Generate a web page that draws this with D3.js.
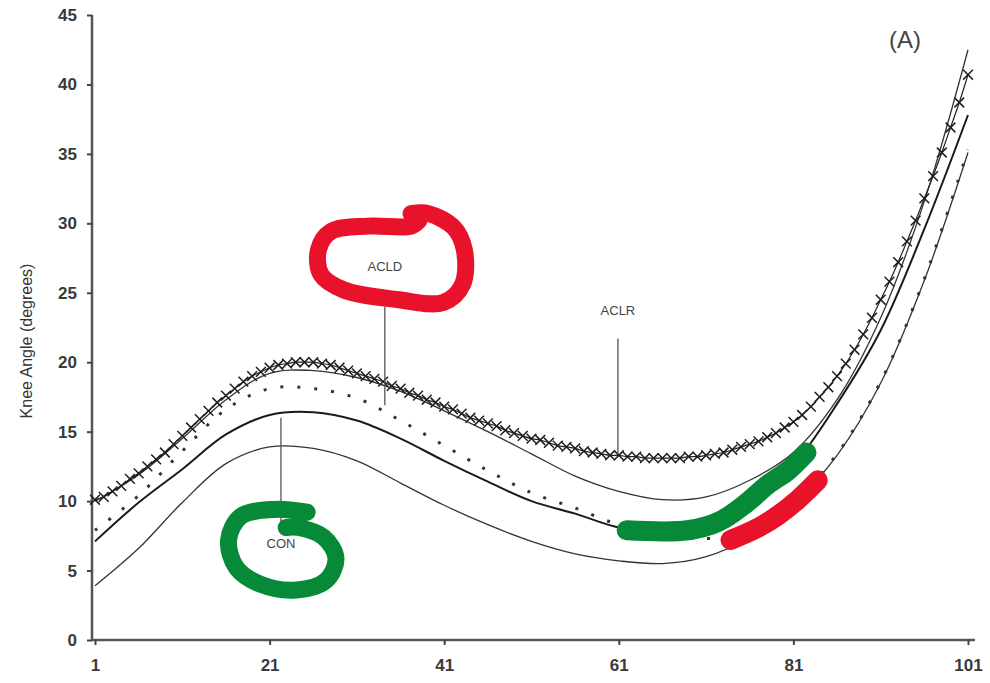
<!DOCTYPE html>
<html>
<head>
<meta charset="utf-8">
<script src="https://cdn.jsdelivr.net/npm/d3@7"></script>
<style>
  html, body { margin: 0; padding: 0; background: #fff; }
  svg { display: block; }
</style>
</head>
<body>
<svg id="chart" width="990" height="683"></svg>
<script>
// ---------- DATA ----------
const xTicks = [1, 21, 41, 61, 81, 101];
const yTicks = [0, 5, 10, 15, 20, 25, 30, 35, 40, 45];

// % of stance sampled every 5 units
const xs5 = [1, 6, 11, 16, 21, 26, 31, 36, 41, 46, 51, 56, 61, 66, 71, 76, 81, 86, 91, 96, 101];
const conMean  = [7.1, 9.9, 12.3, 14.8, 16.2, 16.4, 15.8, 14.5, 12.9, 11.4, 10.0, 9.1, 8.1, 7.8, 8.3, 9.9, 12.6, 17.0, 22.3, 29.6, 37.8];
const conUpper = [10.0, 11.9, 14.5, 17.3, 19.2, 19.4, 18.9, 17.9, 16.5, 15.0, 13.4, 11.8, 10.7, 10.1, 10.3, 11.5, 13.5, 17.3, 23.2, 31.6, 42.5];
const conLower = [3.9, 6.6, 9.9, 12.7, 13.9, 13.8, 12.9, 11.3, 9.7, 8.3, 7.1, 6.2, 5.7, 5.5, 6.0, 7.4, 9.8, 13.3, 18.5, 25.9, 35.1];
const acld     = [7.9, 10.4, 13.6, 16.6, 18.1, 18.1, 17.4, 15.8, 14.0, 12.2, 10.6, 9.5, 8.3, 7.6, 7.3, 7.9, 9.9, 13.4, 18.6, 26.0, 35.3];

// ACLR sampled at every unit 1..101
const aclr = [
  10.1, 10.3, 10.7, 11.1, 11.6, 12.0, 12.5, 13.0, 13.5, 14.1,
  14.7, 15.3, 15.9, 16.5, 17.1, 17.6, 18.1, 18.6, 19.0, 19.3,
  19.6, 19.8, 19.9, 20.0, 20.0, 20.0, 19.9, 19.8, 19.6, 19.4,
  19.2, 19.0, 18.8, 18.6, 18.3, 18.1, 17.8, 17.6, 17.3, 17.1,
  16.8, 16.6, 16.3, 16.0, 15.8, 15.6, 15.4, 15.1, 14.9, 14.7,
  14.5, 14.4, 14.2, 14.0, 13.9, 13.8, 13.6, 13.5, 13.4, 13.3,
  13.3, 13.2, 13.2, 13.1, 13.1, 13.1, 13.1, 13.1, 13.2, 13.2,
  13.3, 13.4, 13.5, 13.7, 13.9, 14.1, 14.3, 14.6, 14.9, 15.3,
  15.7, 16.2, 16.8, 17.5, 18.2, 19.0, 19.9, 20.9, 22.0, 23.2,
  24.5, 25.8, 27.2, 28.7, 30.2, 31.8, 33.4, 35.1, 36.9, 38.7,
  40.7
];

// Group labels with pointer lines
const labelNames = ["ACLD", "ACLR", "CON"];
const labelX     = [34.2, 60.9, 22.3];
const labelY     = [26.6, 23.4, 6.6];
const ptrTop     = [24.0, 21.7, 16.0];
const ptrBottom  = [16.9, 13.4, 7.9];

// Hand-drawn highlight strokes (data units)
const redLoop = [[37.2,30.7],[39.2,30.7],[42.1,29.7],[43.3,28.1],[43.1,25.6],[40.9,24.3],[35.8,24.5],[29.5,25.2],[26.9,26.3],[26.6,28.1],[28.0,29.4],[32.3,29.8],[37.2,29.8],[38.1,30.2]];
const greenLoop = [[25.3,9.2],[21.5,9.4],[17.7,8.9],[16.3,7.2],[17.2,5.2],[20.0,4.0],[24.1,3.6],[27.5,4.3],[28.6,5.9],[27.2,7.4],[24.3,8.1],[22.9,8.1]];
const greenStroke = [[61.9,7.9],[68.9,7.9],[72.4,8.5],[75.3,9.7],[78.1,11.2],[80.4,12.2],[82.5,13.5]];
const redStroke = [[73.8,7.2],[77.0,8.1],[79.3,9.0],[81.5,10.1],[83.8,11.5]];

// ---------- CHART ----------
const svg = d3.select("#chart");
const x = d3.scaleLinear().domain([1, 101]).range([95, 968]);
const y = d3.scaleLinear().domain([0, 45]).range([640, 15]);

const font = "'Liberation Sans', Arial, Helvetica, sans-serif";

// axes
const yAxis = d3.axisLeft(y).tickValues(yTicks).tickSize(5).tickPadding(10);
const gy = svg.append("g").attr("transform", "translate(92,0)").call(yAxis);
gy.select(".domain").attr("stroke", "#555").attr("stroke-width", 2.5).attr("d", "M0,15V640");
gy.selectAll(".tick line").attr("stroke", "#444").attr("stroke-width", 2);
gy.selectAll(".tick text").attr("font-family", font).attr("font-size", 17).attr("font-weight", "bold").attr("fill", "#3a3a3a");

const xAxis = d3.axisBottom(x).tickValues(xTicks).tickSize(5).tickPadding(14);
const gx = svg.append("g").attr("transform", "translate(0,640)").call(xAxis);
gx.select(".domain").attr("stroke", "#555").attr("stroke-width", 2.5).attr("d", "M92,0H975");
gx.selectAll(".tick line").attr("stroke", "#444").attr("stroke-width", 2);
gx.selectAll(".tick text").attr("font-family", font).attr("font-size", 17).attr("font-weight", "bold").attr("fill", "#3a3a3a");

// axis title
svg.append("text")
  .attr("transform", "translate(32,341) rotate(-90)")
  .attr("text-anchor", "middle")
  .attr("font-family", font).attr("font-size", 16).attr("fill", "#333")
  .text("Knee Angle (degrees)");

svg.append("text")
  .attr("x", 905).attr("y", 48)
  .attr("text-anchor", "middle")
  .attr("font-family", font).attr("font-size", 24).attr("fill", "#444")
  .text("(A)");

// lines
const line5 = d3.line().x((d, i) => x(xs5[i])).y(d => y(d)).curve(d3.curveCatmullRom.alpha(0.5));
const plot = svg.append("g");

plot.append("path").datum(conUpper).attr("d", line5).attr("fill", "none").attr("stroke", "#333").attr("stroke-width", 1.3);
plot.append("path").datum(conLower).attr("d", line5).attr("fill", "none").attr("stroke", "#333").attr("stroke-width", 1.3);
plot.append("path").datum(conMean).attr("d", line5).attr("fill", "none").attr("stroke", "#1a1a1a").attr("stroke-width", 2);
plot.append("path").datum(acld).attr("d", line5).attr("fill", "none").attr("stroke", "#333")
  .attr("stroke-width", 3).attr("stroke-dasharray", "3,14");

// ACLR with x markers
const lineA = d3.line().x((d, i) => x(i + 1)).y(d => y(d)).curve(d3.curveMonotoneX);
plot.append("path").datum(aclr).attr("d", lineA).attr("fill", "none").attr("stroke", "#222").attr("stroke-width", 1.2);
const xSym = d3.symbol().type(d3.symbolTimes).size(64);
plot.selectAll("path.mk").data(aclr).join("path").attr("class", "mk")
  .attr("transform", (d, i) => `translate(${x(i + 1)},${y(d)})`)
  .attr("d", xSym)
  .attr("fill", "none").attr("stroke", "#1e1e1e").attr("stroke-width", 1.5);

// pointer labels
labelNames.forEach((name, i) => {
  svg.append("line")
    .attr("x1", x(labelX[i])).attr("x2", x(labelX[i]))
    .attr("y1", y(ptrTop[i])).attr("y2", y(ptrBottom[i]))
    .attr("stroke", "#555").attr("stroke-width", 1.3);
  svg.append("text")
    .attr("x", x(labelX[i])).attr("y", y(labelY[i]))
    .attr("text-anchor", "middle")
    .attr("font-family", font).attr("font-size", 13).attr("fill", "#444")
    .text(name);
});

// hand-drawn highlights
const hand = d3.line().x(d => x(d[0])).y(d => y(d[1])).curve(d3.curveCatmullRom.alpha(0.5));
const red = "#e8132b", green = "#068a37";
svg.append("path").datum(redLoop).attr("d", hand).attr("fill", "none").attr("stroke", red)
  .attr("stroke-width", 17).attr("stroke-linecap", "round").attr("stroke-linejoin", "round");
svg.append("path").datum(greenLoop).attr("d", hand).attr("fill", "none").attr("stroke", green)
  .attr("stroke-width", 17).attr("stroke-linecap", "round").attr("stroke-linejoin", "round");
svg.append("path").datum(greenStroke).attr("d", hand).attr("fill", "none").attr("stroke", green)
  .attr("stroke-width", 20).attr("stroke-linecap", "round").attr("stroke-linejoin", "round");
svg.append("path").datum(redStroke).attr("d", hand).attr("fill", "none").attr("stroke", red)
  .attr("stroke-width", 20).attr("stroke-linecap", "round").attr("stroke-linejoin", "round");
</script>
</body>
</html>
